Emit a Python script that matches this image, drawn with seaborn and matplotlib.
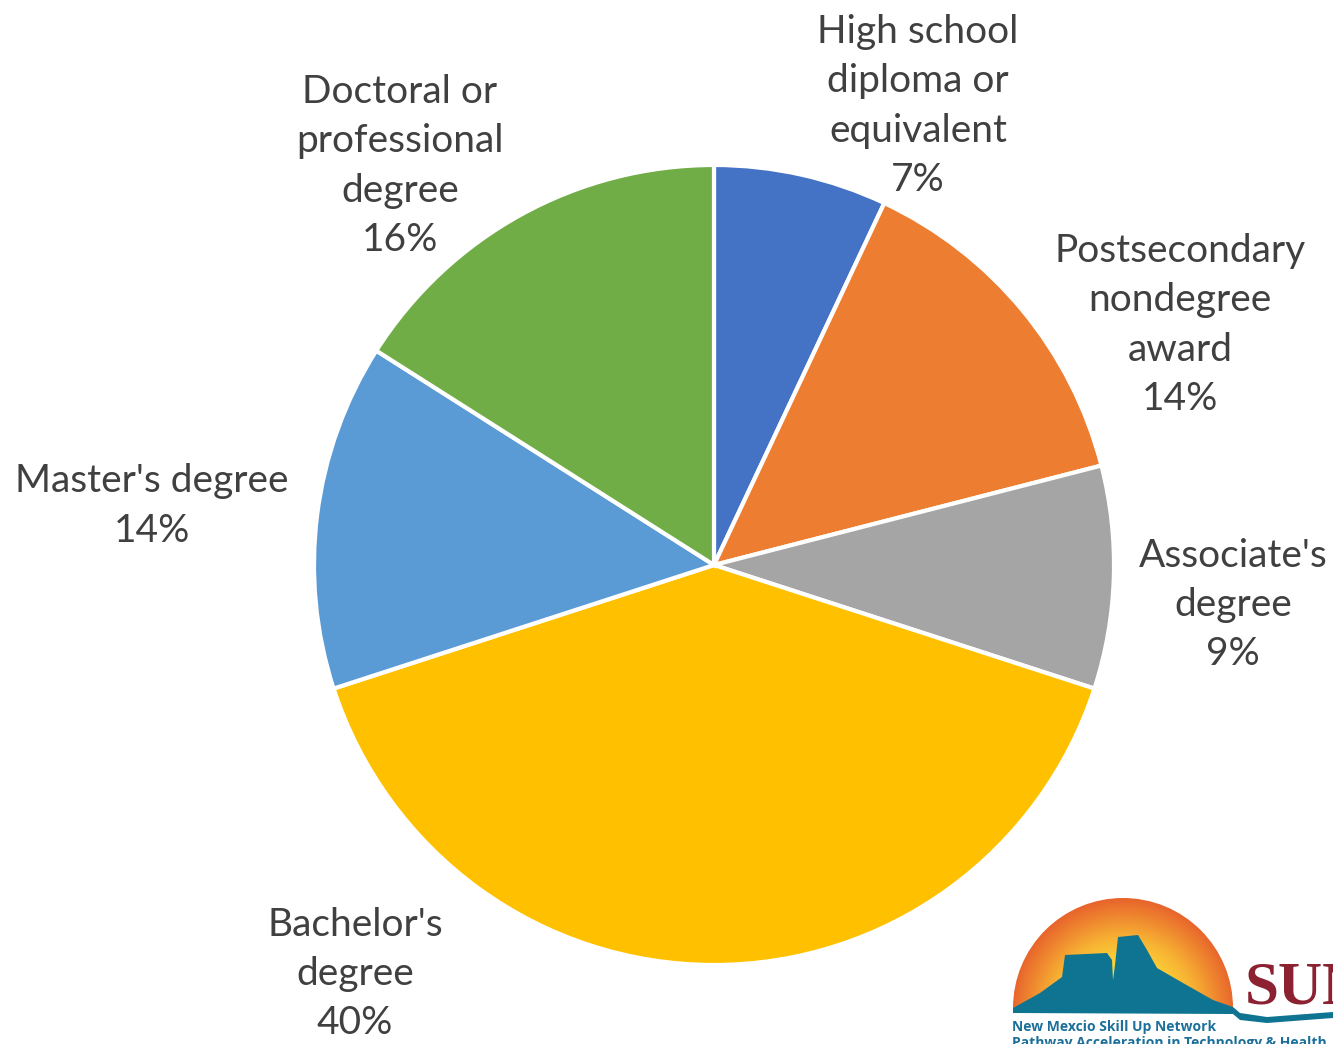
import numpy as np
import matplotlib
matplotlib.use("Agg")
import matplotlib.pyplot as plt
from matplotlib.colors import LinearSegmentedColormap
from matplotlib.patches import Circle, Polygon
import seaborn as sns

# data
categories = ["High school\ndiploma or\nequivalent", "Postsecondary\nnondegree\naward",
              "Associate's\ndegree", "Bachelor's\ndegree", "Master's degree",
              "Doctoral or\nprofessional\ndegree"]
shares = [7, 14, 9, 40, 14, 16]
colors = ["#4472C4", "#ED7D31", "#A5A5A5", "#FFC000", "#5B9BD5", "#70AD47"]

# label placement (pixel coords of block centres)
label_pos = [(918, 106), (1180, 325), (1233, 605), (355, 974), (152, 506), (400, 166)]

sns.set_theme(style="white")
plt.rcParams['font.family'] = ['Lato', 'DejaVu Sans']

fig = plt.figure(figsize=(13.33, 10.44), dpi=100)
ax = fig.add_axes([0, 0, 1, 1])

pal = sns.color_palette(colors)
ax.pie(shares, colors=pal, startangle=-90, counterclock=True,
       center=(714, 565), radius=400, frame=True,
       wedgeprops=dict(edgecolor='white', linewidth=3))
ax.set_xlim(0, 1333)
ax.set_ylim(1044, 0)
ax.set_aspect('equal')
ax.axis('off')

for lab, val, (x, y) in zip(categories, shares, label_pos):
    ax.text(x, y, f"{lab}\n{val}%", ha='center', va='center', fontsize=28,
            color='#404040', linespacing=1.46)

# logo (bottom right)
sun_cmap = LinearSegmentedColormap.from_list('sun', ['#FFE83A', '#F7B233', '#E8642C'])
yy, xx = np.mgrid[890:1010, 1010:1240]
rr = np.hypot(xx - 1123, yy - 1010) / 112
im = ax.imshow(rr, cmap=sun_cmap, extent=(1010, 1240, 1010, 890), zorder=3,
               vmin=0.3, vmax=1.0)
im.set_clip_path(Circle((1123, 1008), 110, transform=ax.transData))
mountain = [(1013, 1008), (1040, 993), (1062, 977), (1065, 955), (1107, 953),
            (1112, 960), (1113, 980), (1115, 965), (1118, 937), (1138, 935),
            (1147, 950), (1157, 968), (1183, 983), (1213, 1000), (1233, 1007),
            (1240, 1013), (1267, 1017), (1333, 1012), (1333, 1018), (1267, 1023),
            (1240, 1020), (1233, 1014), (1013, 1013)]
ax.add_patch(Polygon(mountain, closed=True, facecolor='#0F7491', edgecolor='none', zorder=4))
ax.text(1245, 1003, "SUN", fontsize=44, fontweight='bold', color='#8B2131',
        family='Liberation Serif', ha='left', va='baseline', zorder=5)
ax.text(1012, 1031, "New Mexcio Skill Up Network", fontsize=10, fontweight='bold',
        color='#1B6F9A', ha='left', va='baseline', family='Open Sans', zorder=5)
ax.text(1012, 1047, "Pathway Acceleration in Technology & Health", fontsize=10,
        fontweight='bold', color='#1B6F9A', ha='left', va='baseline',
        family='Open Sans', zorder=5)

fig.savefig("out.png", dpi=100)
